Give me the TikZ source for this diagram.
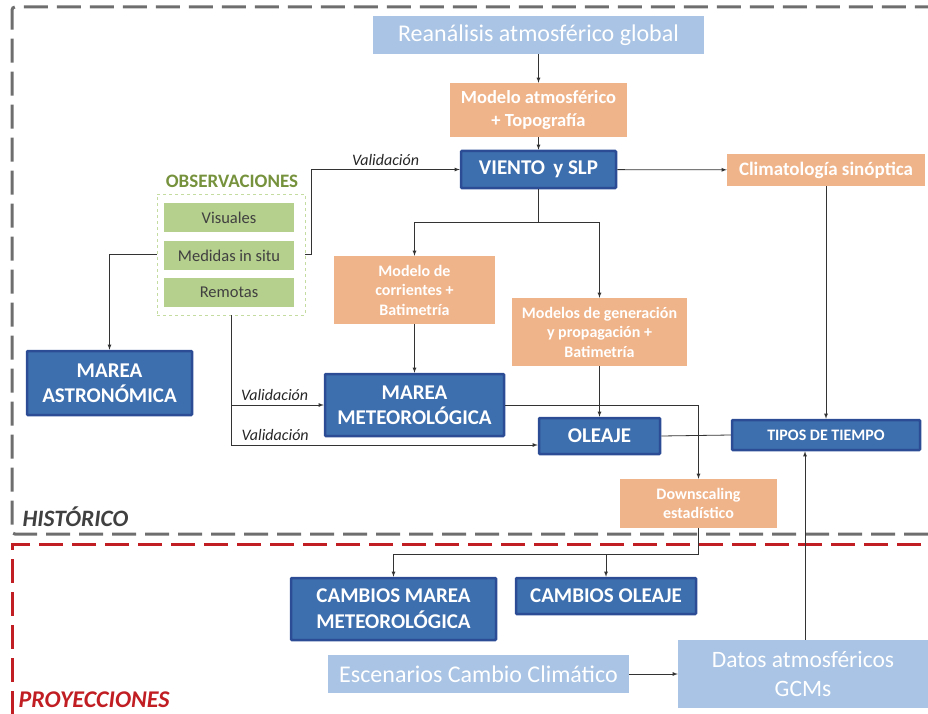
\documentclass[tikz,border=0pt]{standalone}
\usepackage{fontspec}
\setmainfont{Carlito}
\usetikzlibrary{arrows}
\definecolor{azulosc}{RGB}{61,110,173}
\definecolor{azulborde}{RGB}{44,77,150}
\definecolor{azulclaro}{RGB}{169,196,228}
\definecolor{naranja}{RGB}{240,180,138}
\definecolor{verde}{RGB}{181,207,141}
\definecolor{verdeosc}{RGB}{118,146,60}
\definecolor{verdeclaro}{RGB}{196,220,160}
\definecolor{grismarco}{RGB}{110,110,110}
\definecolor{rojomarco}{RGB}{192,30,35}
\definecolor{textogris}{RGB}{64,64,64}
\tikzstyle{resul}=[rectangle,draw=azulborde,fill=azulosc,line width=2.5pt,rounded corners=1pt,text=white,align=center,inner sep=0pt]
\tikzstyle{proc}=[rectangle,fill=naranja,text=white,align=center,inner sep=0pt]
\tikzstyle{fuente}=[rectangle,fill=azulclaro,text=white,align=center,inner sep=0pt]
\tikzstyle{obs}=[rectangle,fill=verde,text=textogris,inner sep=0pt,minimum width=130pt,minimum height=29pt,font=\fontsize{16.5}{19}\selectfont]
\tikzstyle{valid}=[font=\itshape\fontsize{16}{18}\selectfont,text=black!85]
\tikzstyle{flecha}=[->,>=latex,line width=0.8pt,black!80]
\tikzstyle{marco}=[line width=3pt,dash pattern=on 24pt off 9pt]

\begin{document}
\begin{tikzpicture}[x=1pt,y=-1pt]
\useasboundingbox (0,0) rectangle (928,714);
% marcos
\draw[marco,grismarco,rounded corners=3pt] (928,534) -- (12,534) -- (12,7) -- (928,7);
\draw[marco,rojomarco] (921,544) -- (12,544) -- (12,714);
\node[anchor=west,text=textogris,font=\bfseries\itshape\fontsize{23.5}{28}\selectfont] (hist) at (19,517) {HISTÓRICO};
\node[anchor=west,text=rojomarco,font=\bfseries\itshape\fontsize{24}{28}\selectfont] (proy) at (15,700) {PROYECCIONES};
% nodos
\node[fuente,minimum width=331pt,minimum height=38pt,font=\fontsize{24}{28}\selectfont] (reana) at (538.5,35) {Reanálisis atmosférico global};
\node[proc,minimum width=177pt,minimum height=54pt,font=\bfseries\fontsize{18.5}{23}\selectfont] (modatm) at (538.5,110) {Modelo atmosférico\\+ Topografía};
\node[resul,minimum width=155pt,minimum height=37pt,font=\bfseries\fontsize{21}{25}\selectfont] (viento) at (538.5,169.5) {VIENTO\, y SLP};
\node[proc,minimum width=198pt,minimum height=32pt,font=\bfseries\fontsize{19}{23}\selectfont] (clima) at (826,170) {Climatología sinóptica};
\node[text=verdeosc,font=\bfseries\fontsize{19}{22}\selectfont] (obstit) at (232,181) {OBSERVACIONES};
\node[draw=verdeclaro,dashed,line width=0.8pt,minimum width=148pt,minimum height=121pt] (obsbox) at (231,254.5) {};
\node[obs] (vis) at (229,217.5) {Visuales};
\node[obs] (med) at (229,255.5) {Medidas in situ};
\node[obs] (rem) at (229,292.5) {Remotas};
\node[proc,minimum width=161pt,minimum height=68pt,font=\bfseries\fontsize{16}{19.5}\selectfont] (corr) at (414.5,290) {Modelo de\\corrientes +\\Batimetría};
\node[proc,minimum width=175pt,minimum height=68pt,font=\bfseries\fontsize{16}{19.5}\selectfont] (gen) at (599.5,332) {Modelos de generación\\y propagación +\\Batimetría};
\node[resul,minimum width=165pt,minimum height=64pt,font=\bfseries\fontsize{21}{25}\selectfont] (mastro) at (109.5,383) {MAREA\\ASTRONÓMICA};
\node[resul,minimum width=179pt,minimum height=62pt,font=\bfseries\fontsize{21}{25}\selectfont] (mmeteo) at (414.5,405) {MAREA\\METEOROLÓGICA};
\node[resul,minimum width=121pt,minimum height=36pt,font=\bfseries\fontsize{21}{25}\selectfont] (oleaje) at (599.5,436) {OLEAJE};
\node[resul,minimum width=188pt,minimum height=30pt,font=\bfseries\fontsize{16}{19}\selectfont] (tipos) at (826,435) {TIPOS DE TIEMPO};
\node[proc,minimum width=157pt,minimum height=49pt,font=\bfseries\fontsize{16}{19.5}\selectfont] (down) at (698.5,503.5) {Downscaling\\estadístico};
\node[resul,minimum width=205pt,minimum height=62pt,font=\bfseries\fontsize{21}{26}\selectfont] (cmarea) at (393.5,609) {CAMBIOS MAREA\\METEOROLÓGICA};
\node[resul,minimum width=180pt,minimum height=36pt,font=\bfseries\fontsize{21}{25}\selectfont] (coleaje) at (606,596) {CAMBIOS OLEAJE};
\node[fuente,minimum width=301pt,minimum height=38pt,font=\fontsize{24}{28}\selectfont] (escen) at (478.5,674) {Escenarios Cambio Climático};
\node[fuente,minimum width=250pt,minimum height=68pt,font=\fontsize{23.5}{29}\selectfont] (datos) at (803,674) {Datos atmosféricos\\GCMs};
% conexiones
\draw[flecha] (reana) -- (modatm);
\draw[flecha] (modatm) -- (viento);
\draw[flecha] (viento) -- (clima);
\draw[flecha] (obsbox.east) -- ++(6,0) |- (viento.west) node[valid,pos=0.75,above] {Validación};
\draw[flecha] (obsbox.west) -| (mastro.north);
\draw[line width=0.8pt,black!80] (viento.south) -- ++(0,33) coordinate (vsplit);
\draw[flecha] (vsplit) -| (corr.north);
\draw[flecha] (vsplit) -| (gen.north);
\draw[flecha] (corr) -- (mmeteo);
\draw[flecha] (gen) -- (oleaje);
\draw[flecha] (obsbox.south) |- ([yshift=-9pt]oleaje.west) node[valid,pos=0.572,above=1pt] {Validación};
\draw[flecha] (obsbox.south |- mmeteo.west) -- (mmeteo.west) node[valid,pos=0.47,above=1pt] {Validación};
\draw[flecha] (mmeteo.east) -| (down.north);
\draw[line width=0.8pt,black!80] (oleaje.east) -- (tipos.west);
\draw[flecha] (clima) -- (tipos);
\draw[line width=0.8pt,black!80] (down.south) -- ++(0,26) coordinate (dsplit);
\draw[flecha] (dsplit) -| (cmarea.north);
\draw[flecha] (dsplit) -| (coleaje.north);
\draw[flecha] (escen) -- (datos);
\draw[flecha] ([xshift=2pt]datos.north) -- ([xshift=2pt]datos.north |- tipos.south);
\end{tikzpicture}
\end{document}
